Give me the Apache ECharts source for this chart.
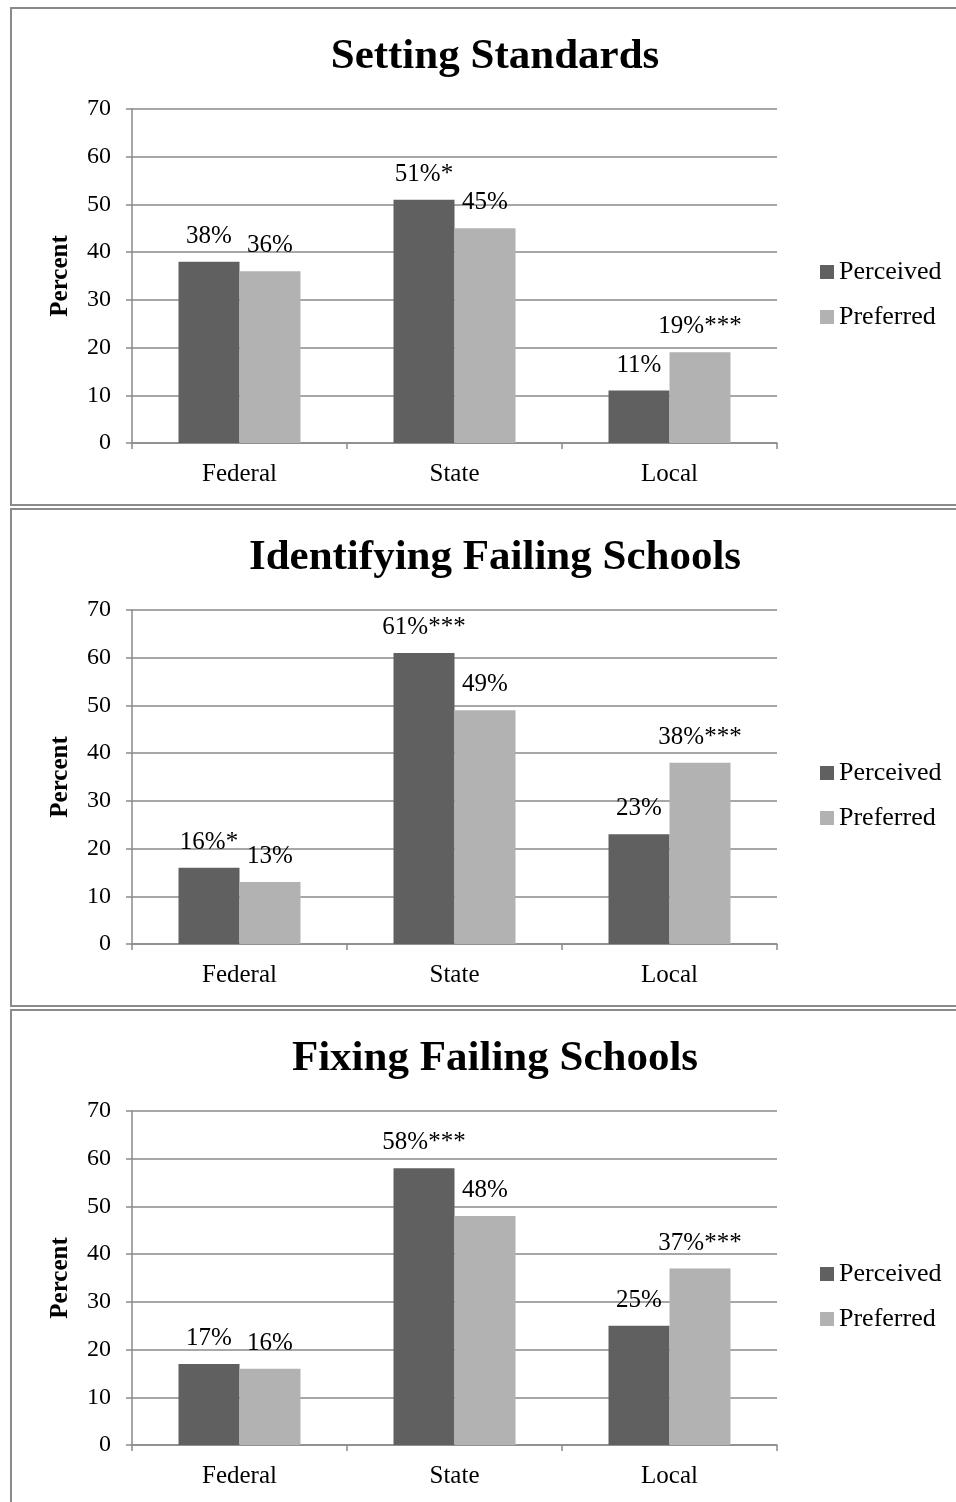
<!DOCTYPE html>
<html>
<head>
<meta charset="utf-8">
<title>Who Sets School Policy</title>
<script src="https://cdn.jsdelivr.net/npm/echarts@6/dist/echarts.min.js"></script>
<style>
  html, body { margin: 0; padding: 0; background: #ffffff; }
  #chart { width: 956px; height: 1502px; }
</style>
</head>
<body>
<div id="chart"></div>
<script>
// Three panels of grouped bars: perceived vs. preferred level of government
const categories = ['Federal', 'State', 'Local'];
const panelTitles = ['Setting Standards', 'Identifying Failing Schools', 'Fixing Failing Schools'];
const seriesNames = ['Perceived', 'Preferred'];
const yTicks = [0, 10, 20, 30, 40, 50, 60, 70];

const standardsPerceived = [38, 51, 11];
const standardsPreferred = [36, 45, 19];
const identifyingPerceived = [16, 61, 23];
const identifyingPreferred = [13, 49, 38];
const fixingPerceived = [17, 58, 25];
const fixingPreferred = [16, 48, 37];

// significance markers appended to each value label
const standardsPerceivedSig = ['', '*', ''];
const standardsPreferredSig = ['', '', '***'];
const identifyingPerceivedSig = ['*', '***', ''];
const identifyingPreferredSig = ['', '', '***'];
const fixingPerceivedSig = ['', '***', ''];
const fixingPreferredSig = ['', '', '***'];

const panels = [
  { perceived: standardsPerceived, preferred: standardsPreferred,
    perceivedSig: standardsPerceivedSig, preferredSig: standardsPreferredSig },
  { perceived: identifyingPerceived, preferred: identifyingPreferred,
    perceivedSig: identifyingPerceivedSig, preferredSig: identifyingPreferredSig },
  { perceived: fixingPerceived, preferred: fixingPreferred,
    perceivedSig: fixingPerceivedSig, preferredSig: fixingPreferredSig }
];

const FONT = '"Liberation Serif", "Times New Roman", serif';
const colors = ['#606060', '#b2b2b2'];
const lineGray = '#8a8a8a';
const panelStep = 501;

const chart = echarts.init(document.getElementById('chart'), null, { renderer: 'canvas' });

const titles = [], grids = [], xAxes = [], yAxes = [], legends = [], series = [], graphics = [];

panels.forEach((p, i) => {
  const off = i * panelStep;

  graphics.push({
    type: 'rect',
    shape: { x: 11, y: 8 + off, width: 980, height: i < 2 ? 497 : 560 },
    style: { fill: 'none', stroke: lineGray, lineWidth: 2 },
    silent: true,
    z: -10
  });

  titles.push({
    text: panelTitles[i],
    left: 490,
    top: 30 + off,
    textAlign: 'center',
    textStyle: { fontFamily: FONT, fontWeight: 'bold', fontSize: 43, color: '#000' }
  });

  grids.push({ left: 132, right: 179, top: 109 + off, height: 334 });

  xAxes.push({
    type: 'category',
    gridIndex: i,
    data: categories,
    axisLine: { show: true, lineStyle: { color: lineGray, width: 1.5 } },
    axisTick: { show: true, length: 6, lineStyle: { color: lineGray, width: 1.5 } },
    axisLabel: { fontFamily: FONT, fontSize: 25, color: '#000', margin: 19 }
  });

  yAxes.push({
    type: 'value',
    gridIndex: i,
    min: yTicks[0],
    max: yTicks[yTicks.length - 1],
    interval: 10,
    name: 'Percent',
    nameLocation: 'middle',
    nameRotate: 90,
    nameGap: 59,
    nameTextStyle: { fontFamily: FONT, fontWeight: 'bold', fontSize: 25, color: '#000' },
    axisLine: { show: true, lineStyle: { color: lineGray, width: 1.5 } },
    axisTick: { show: true, length: 6, lineStyle: { color: lineGray, width: 1.5 } },
    axisLabel: { fontFamily: FONT, fontSize: 24, color: '#000', margin: 21 },
    splitLine: { show: true, lineStyle: { color: lineGray, width: 1.5 } }
  });

  legends.push({
    orient: 'vertical',
    left: 815,
    top: 254 + off,
    itemWidth: 14,
    itemHeight: 14,
    itemGap: 19,
    icon: 'rect',
    data: seriesNames,
    textStyle: { fontFamily: FONT, fontSize: 26, color: '#000' }
  });

  const pairs = [[p.perceived, p.perceivedSig], [p.preferred, p.preferredSig]];
  pairs.forEach((pair, k) => {
    const vals = pair[0], sig = pair[1];
    series.push({
      type: 'bar',
      name: seriesNames[k],
      xAxisIndex: i,
      yAxisIndex: i,
      data: vals,
      barWidth: 61,
      barGap: '0%',
      itemStyle: { color: colors[k] },
      label: {
        show: true,
        position: 'top',
        distance: 13,
        fontFamily: FONT,
        fontSize: 25,
        color: '#000',
        formatter: (d) => d.value + '%' + sig[d.dataIndex]
      },
      emphasis: { disabled: true },
      animation: false
    });
  });
});

chart.setOption({
  backgroundColor: '#ffffff',
  animation: false,
  color: colors,
  title: titles,
  grid: grids,
  xAxis: xAxes,
  yAxis: yAxes,
  legend: legends,
  series: series,
  graphic: graphics
});
</script>
</body>
</html>
